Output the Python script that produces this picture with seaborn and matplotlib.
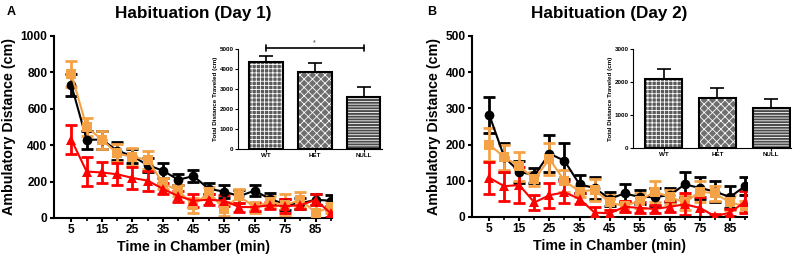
import numpy as np
import pandas as pd
import seaborn as sns
import matplotlib.pyplot as plt
from matplotlib.patches import Rectangle

sns.set_style("ticks")
plt.rcParams['font.family'] = ['Liberation Sans', 'DejaVu Sans']
plt.rcParams['font.weight'] = 'bold'
plt.rcParams['axes.labelweight'] = 'bold'
plt.rcParams['axes.titleweight'] = 'bold'
for k in ['text.color', 'axes.labelcolor', 'xtick.color', 'ytick.color', 'axes.edgecolor']:
    plt.rcParams[k] = 'black'
plt.rcParams['hatch.linewidth'] = 0.6

# time bins (min)
time_min = [5, 10, 15, 20, 25, 30, 35, 40, 45, 50, 55, 60, 65, 70, 75, 80, 85, 90]
groups = ["WT", "HET", "NULL"]

# day 1 means / sem
day1_wt = [730, 430, 430, 370, 340, 290, 260, 210, 230, 160, 145, 120, 150, 105, 75, 80, 100, 95]
day1_wt_err = [60, 50, 50, 50, 40, 40, 40, 30, 35, 30, 35, 35, 30, 30, 30, 30, 30, 30]
day1_het = [790, 500, 430, 355, 335, 320, 190, 150, 70, 140, 50, 120, 60, 90, 70, 100, 30, 60]
day1_het_err = [70, 50, 50, 50, 50, 50, 30, 30, 40, 30, 40, 40, 30, 30, 60, 40, 40, 30]
day1_null = [430, 255, 250, 240, 220, 205, 160, 120, 95, 100, 95, 60, 60, 70, 65, 70, 100, 25]
day1_null_err = [80, 80, 60, 60, 60, 55, 30, 30, 35, 30, 30, 25, 20, 20, 40, 20, 30, 20]

# day 2 means / sem
day2_wt = [282, 165, 125, 115, 175, 155, 90, 80, 50, 65, 55, 55, 60, 90, 80, 70, 55, 85]
day2_wt_err = [50, 40, 30, 20, 50, 50, 25, 30, 20, 25, 20, 25, 20, 35, 30, 30, 30, 25]
day2_het = [200, 165, 140, 105, 160, 100, 70, 75, 40, 30, 45, 70, 55, 40, 70, 65, 40, 30]
day2_het_err = [45, 35, 40, 20, 45, 30, 15, 30, 20, 15, 20, 30, 20, 20, 30, 20, 20, 15]
day2_null = [108, 85, 88, 40, 60, 68, 50, 12, 10, 28, 25, 22, 28, 35, 25, 2, 12, 42]
day2_null_err = [45, 40, 50, 20, 35, 30, 15, 15, 10, 15, 15, 10, 15, 30, 30, 5, 10, 30]

# inset totals
total_day1 = [4350, 3850, 2580]
total_day1_err = [280, 450, 500]
total_day2 = [2080, 1530, 1200]
total_day2_err = [300, 300, 300]

colors = {"WT": "black", "HET": "#F5A247", "NULL": "#FF0000"}
markers = {"WT": "o", "HET": "s", "NULL": "^"}
hatches = {"WT": "++++", "HET": "xxxx", "NULL": "------"}
faces = {"WT": "#5a5a5a", "HET": "#6e6e6e", "NULL": "#4a4a4a"}


def make_df(wt, het, null):
    return pd.DataFrame({
        "time": time_min * 3,
        "dist": wt + het + null,
        "group": ["WT"] * len(time_min) + ["HET"] * len(time_min) + ["NULL"] * len(time_min),
    })


def main_panel(ax, df, errs, ymax, ystep, title):
    for g, e in zip(groups, errs):
        sub = df[df.group == g]
        ax.errorbar(sub.time, sub.dist, yerr=e, fmt='none', ecolor=colors[g],
                    elinewidth=2, capsize=4, capthick=2, zorder=2)
    sns.lineplot(data=df, x="time", y="dist", hue="group", style="group",
                 palette=colors, markers=markers, dashes=False, markersize=7,
                 markeredgewidth=0, linewidth=1.5, legend=False, ax=ax, zorder=3)
    ax.set_xlim(-0.8, 90.5)
    ax.set_ylim(0, ymax)
    ax.set_xticks(np.arange(5, 90, 10))
    ax.set_xticks(np.arange(10, 91, 10), minor=True)
    ax.set_yticks(np.arange(0, ymax + 1, ystep))
    ax.tick_params(labelsize=8.6, width=1.5, length=3, pad=1.5)
    ax.tick_params(which="minor", width=1.2, length=2.5)
    ax.set_xlabel("Time in Chamber (min)", fontsize=10.2, labelpad=3)
    ax.set_ylabel("Ambulatory Distance (cm)", fontsize=10.3, labelpad=3)
    ax.set_title(title, fontsize=12.3, pad=13)
    for s in ["left", "bottom"]:
        ax.spines[s].set_linewidth(1.5)
    sns.despine(ax=ax)


def inset_panel(ax, vals, errs, ymax):
    sns.barplot(x=groups, y=vals, ax=ax, width=0.69)
    bars = list(ax.patches)
    for p, g in zip(bars, groups):
        p.set_facecolor(faces[g])
        p.set_edgecolor("white")
        p.set_hatch(hatches[g])
        p.set_linewidth(0)
        ax.add_patch(Rectangle((p.get_x(), p.get_y()), p.get_width(), p.get_height(),
                               fill=False, ec="black", lw=1.5, zorder=4))
    ax.errorbar(range(3), vals, yerr=[[0, 0, 0], errs], fmt='none', ecolor="black",
                elinewidth=1.2, capsize=5, capthick=1.2, zorder=1)
    ax.set_xlim(-0.58, 2.38)
    ax.set_ylim(0, ymax)
    ax.set_yticks(np.arange(0, ymax + 1, 1000))
    ax.tick_params(labelsize=4.5, width=0.8, length=2, pad=1)
    ax.set_ylabel("Total Distance Traveled (cm)", fontsize=4.5, labelpad=1)
    for s in ["left", "bottom"]:
        ax.spines[s].set_linewidth(0.8)
    sns.despine(ax=ax)
    ax.patch.set_alpha(0)


fig = plt.figure(figsize=(8.01, 2.62), dpi=100)

axA = fig.add_axes([0.067, 0.168, 0.348, 0.695])
main_panel(axA, make_df(day1_wt, day1_het, day1_null),
           [day1_wt_err, day1_het_err, day1_null_err], 1000, 200, "Habituation (Day 1)")

axB = fig.add_axes([0.589, 0.172, 0.343, 0.691])
main_panel(axB, make_df(day2_wt, day2_het, day2_null),
           [day2_wt_err, day2_het_err, day2_null_err], 500, 100, "Habituation (Day 2)")

insA = fig.add_axes([0.297, 0.431, 0.18, 0.382])
inset_panel(insA, total_day1, total_day1_err, 5000)
# significance bar WT vs NULL
insA.plot([0, 2], [5050, 5050], color="black", lw=1.2, clip_on=False)
insA.plot([0, 0], [4900, 5200], color="black", lw=1.2, clip_on=False)
insA.plot([2, 2], [4900, 5200], color="black", lw=1.2, clip_on=False)
insA.text(1, 5150, "*", ha="center", va="bottom", fontsize=5, color="#777777")

insB = fig.add_axes([0.79, 0.435, 0.198, 0.378])
inset_panel(insB, total_day2, total_day2_err, 3000)

fig.text(0.008, 0.955, "A", fontsize=9, va="center")
fig.text(0.533, 0.955, "B", fontsize=9, va="center")

fig.savefig("out.png", dpi=100)
